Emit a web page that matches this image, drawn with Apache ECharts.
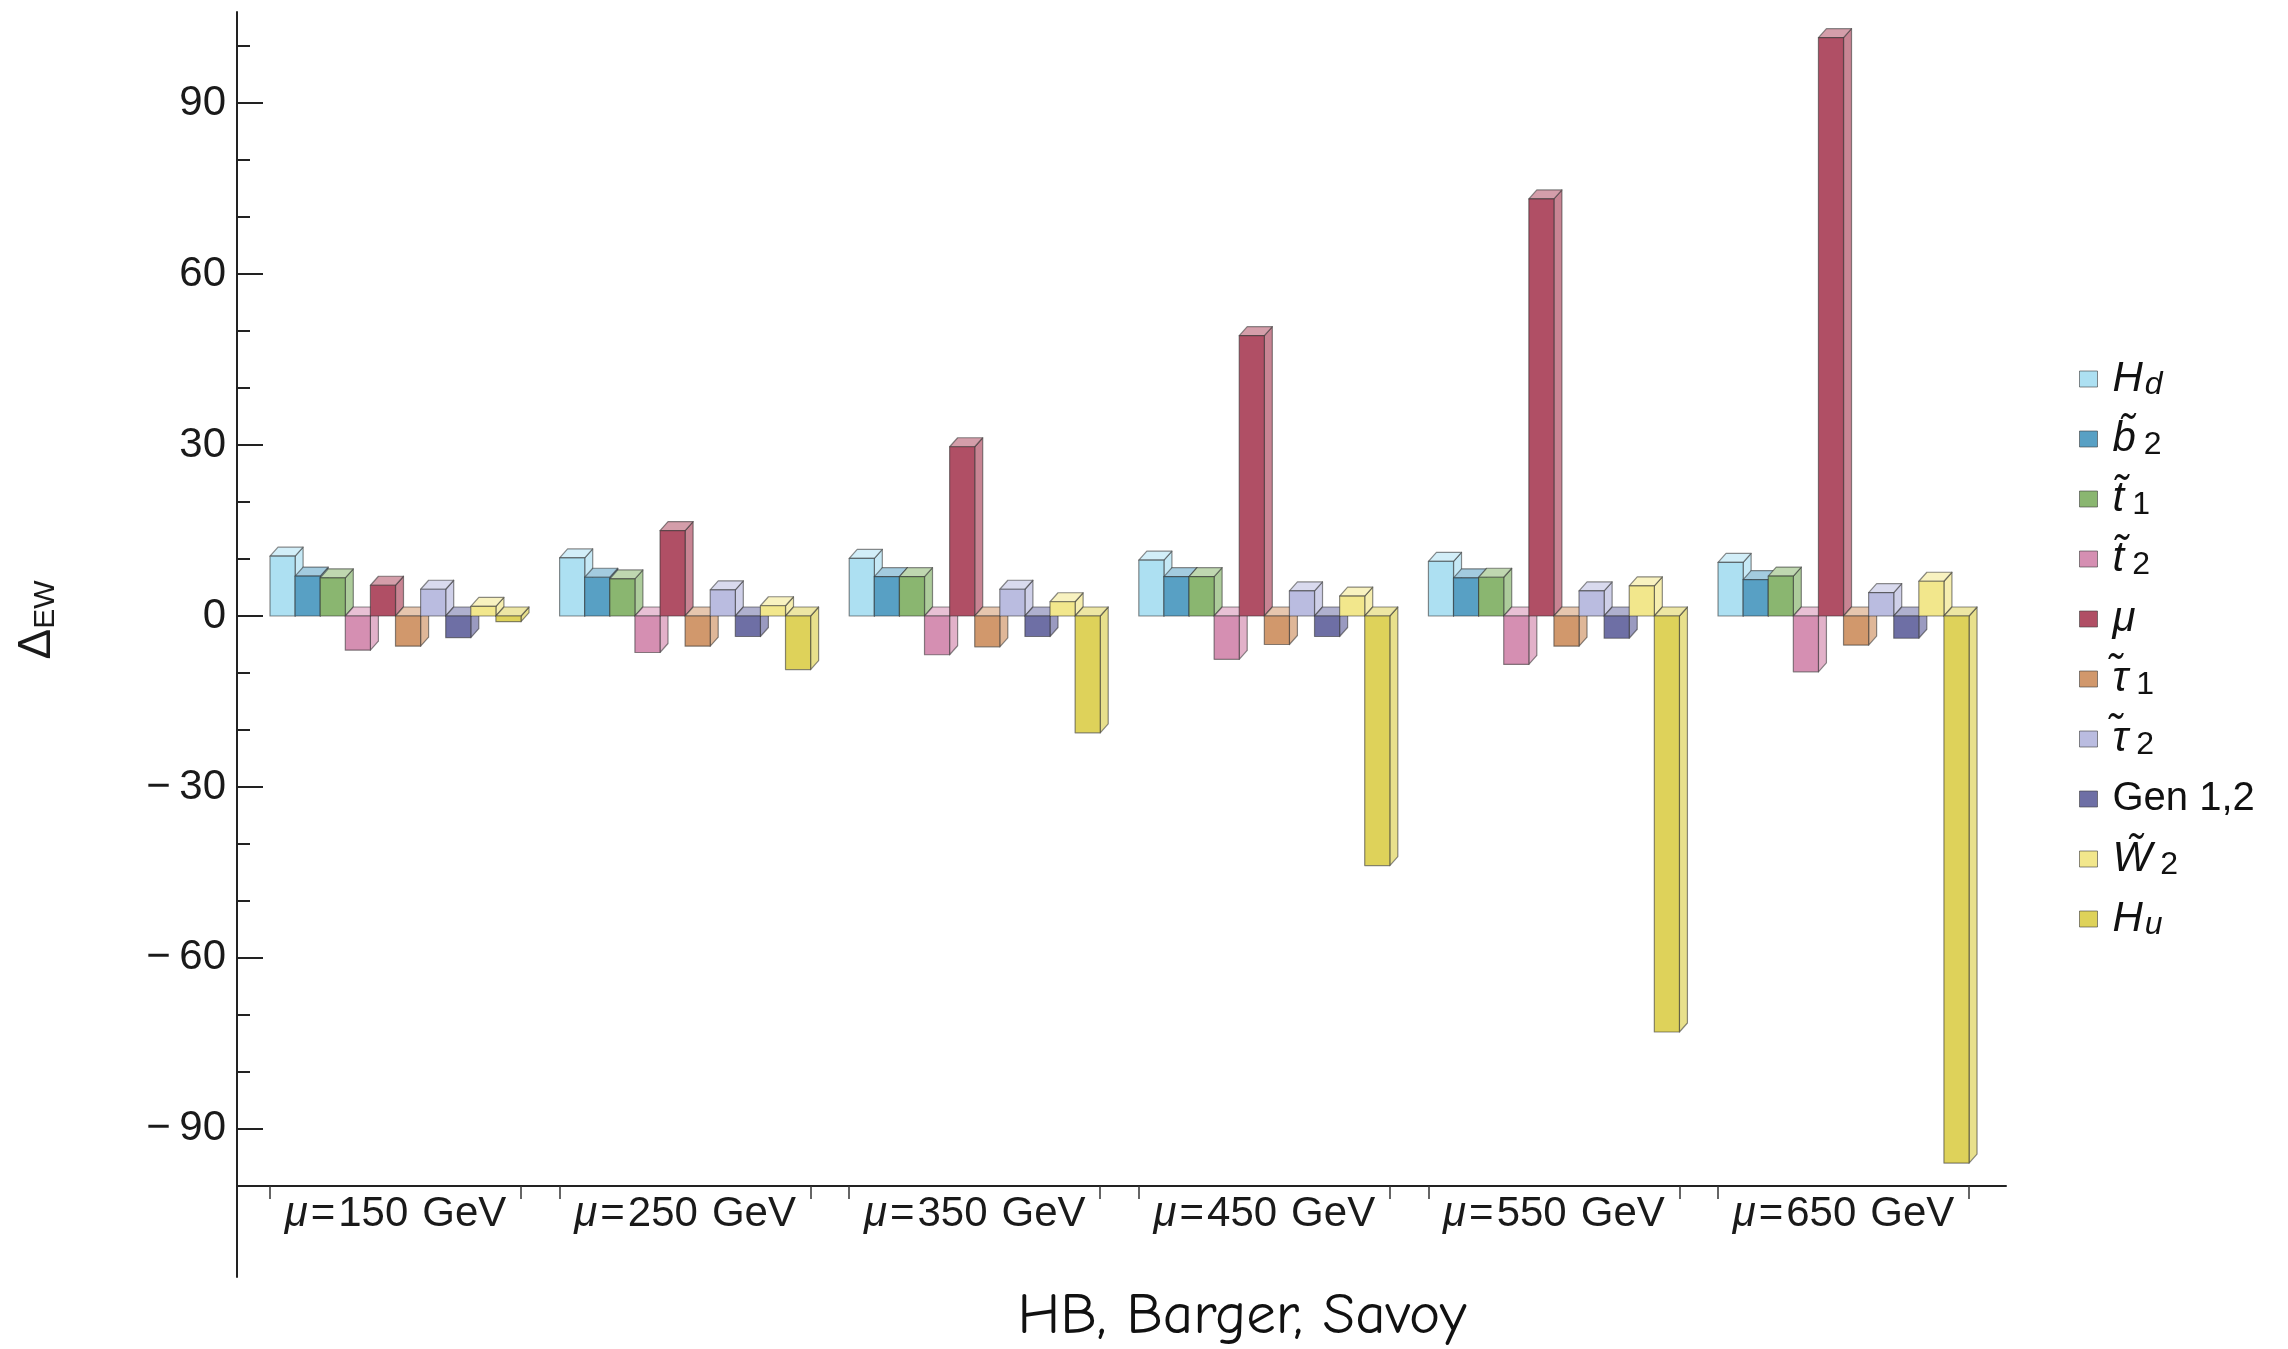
<!DOCTYPE html>
<html>
<head>
<meta charset="utf-8">
<script src="https://cdn.jsdelivr.net/npm/echarts@6/dist/echarts.min.js"></script>
<style>
  html, body { margin: 0; padding: 0; background: #ffffff; }
  #chart { width: 2288px; height: 1349px; }
</style>
</head>
<body>
<div id="chart"></div>
<script>
// Benchmark points (one group of bars per μ value, in GeV)
const groupLabels = ['150', '250', '350', '450', '550', '650'];

// Contributions to Δ_EW for each benchmark point
const Hd    = [10.5, 10.2, 10.1, 9.8, 9.6, 9.4];
const b2    = [7.0, 6.8, 6.9, 6.9, 6.7, 6.4];
const t1    = [6.7, 6.5, 6.9, 6.9, 6.8, 7.0];
const t2    = [-6.0, -6.4, -6.8, -7.6, -8.5, -9.8];
const mu    = [5.4, 15.0, 29.7, 49.2, 73.2, 101.5];
const tau1  = [-5.3, -5.3, -5.4, -5.0, -5.3, -5.1];
const tau2  = [4.7, 4.6, 4.7, 4.4, 4.4, 4.1];
const gen12 = [-3.8, -3.6, -3.6, -3.6, -3.9, -3.9];
const W2    = [1.7, 1.8, 2.5, 3.5, 5.3, 6.1];
const Hu    = [-1.0, -9.4, -20.5, -43.8, -73.0, -96.0];

// Vertical axis ticks
const yMajorTicks = [-90, -60, -30, 0, 30, 60, 90];
const yMinorTicks = [-80, -70, -50, -40, -20, -10, 10, 20, 40, 50, 70, 80, 100];

const seriesNames = ['Hd', 'b2', 't1', 't2', 'mu', 'tau1', 'tau2', 'Gen 1,2', 'W2', 'Hu'];
const seriesValues = [Hd, b2, t1, t2, mu, tau1, tau2, gen12, W2, Hu];
const seriesColors = ['#ADE0F2', '#58A0C4', '#8AB670', '#D58FB2', '#B04F65',
                      '#D1986C', '#BABCE0', '#6E6FA5', '#F2E78C', '#DED25A'];

// Legend entries as rich text (italic symbols, tildes, subscripts)
const legendRich = {
  'Hd':      '{i|H}{si|d}',
  'b2':      '{i|b\u0303}{s|2}',
  't1':      '{i|t\u0303}{s|1}',
  't2':      '{i|t\u0303}{s|2}',
  'mu':      '{i|\u03bc}',
  'tau1':    '{i|\u03c4\u0303}{s|1}',
  'tau2':    '{i|\u03c4\u0303}{s|2}',
  'Gen 1,2': '{r|Gen 1,2}',
  'W2':      '{i|W\u0303}{s|2}',
  'Hu':      '{i|H}{si|u}'
};

const FONT = '"Liberation Sans", Arial, Helvetica, sans-serif';
const GROUP_FRAC = 0.8667;      // share of a category slot covered by its bars
const DEPTH_X = 8, DEPTH_Y = 9; // pseudo-3D extrusion of each bar

function tint(hex, t) {
  const n = parseInt(hex.slice(1), 16);
  const r = (n >> 16) & 255, g = (n >> 8) & 255, b = n & 255;
  const m = (c) => Math.round(c + (255 - c) * t);
  return 'rgb(' + m(r) + ',' + m(g) + ',' + m(b) + ')';
}

// Draws one box (front, top and right faces) per data item
function boxRenderer(s) {
  const n = seriesNames.length;
  const front = seriesColors[s];
  const top = tint(front, 0.45);
  const side = tint(front, 0.3);
  const edge = { stroke: 'rgba(45,45,45,0.55)', lineWidth: 1.2, lineJoin: 'round' };
  return function (params, api) {
    const i = api.value(0);
    const v = api.value(1);
    const base = api.coord([i, 0]);
    const end = api.coord([i, v]);
    const slot = api.size([1, 0])[0];
    const gw = slot * GROUP_FRAC;
    const w = gw / n;
    const L = base[0] - gw / 2 + s * w;
    const R = L + w;
    const yt = Math.min(base[1], end[1]);
    const yb = Math.max(base[1], end[1]);
    return {
      type: 'group',
      children: [
        { type: 'polygon',
          shape: { points: [[R, yt], [R + DEPTH_X, yt - DEPTH_Y], [R + DEPTH_X, yb - DEPTH_Y], [R, yb]] },
          style: Object.assign({ fill: side }, edge) },
        { type: 'polygon',
          shape: { points: [[L, yt], [L + DEPTH_X, yt - DEPTH_Y], [R + DEPTH_X, yt - DEPTH_Y], [R, yt]] },
          style: Object.assign({ fill: top }, edge) },
        { type: 'rect',
          shape: { x: L, y: yt, width: w, height: yb - yt },
          style: Object.assign({ fill: front }, edge) }
      ]
    };
  };
}

const series = seriesNames.map((name, s) => ({
  type: 'custom',
  name: name,
  xAxisIndex: 0,
  yAxisIndex: 0,
  itemStyle: { color: seriesColors[s] },
  encode: { x: 0, y: 1 },
  data: seriesValues[s].map((v, i) => [i, v]),
  renderItem: boxRenderer(s)
}));

const groupCenters = groupLabels.map((_, i) => i);
const groupEdges = [];
groupCenters.forEach((c) => { groupEdges.push(c - GROUP_FRAC / 2, c + GROUP_FRAC / 2); });

const chart = echarts.init(document.getElementById('chart'), null, { renderer: 'canvas' });

chart.setOption({
  animation: false,
  backgroundColor: '#ffffff',
  grid: { left: 237, right: 282, top: 12, bottom: 72, containLabel: false },
  xAxis: {
    type: 'value',
    position: 'bottom',
    offset: -91,
    min: -0.5473,
    max: 5.561,
    axisLine: { show: true, onZero: false, lineStyle: { color: '#222', width: 2 } },
    axisTick: { show: true, inside: false, length: 13, customValues: groupEdges,
                lineStyle: { color: '#333', width: 1.5 } },
    axisLabel: {
      show: true,
      customValues: groupCenters,
      margin: 7,
      color: '#1a1a1a',
      fontFamily: FONT,
      fontSize: 42,
      lineHeight: 42,
      formatter: (v) => '{m|\u03bc}{q|=}' + groupLabels[Math.round(v)] + '{g|GeV}',
      rich: {
        m: { fontStyle: 'italic', fontFamily: FONT, fontSize: 42, color: '#1a1a1a' },
        q: { fontFamily: FONT, fontSize: 42, color: '#1a1a1a', padding: [0, 3, 0, 3] },
        g: { fontFamily: FONT, fontSize: 42, color: '#1a1a1a', padding: [0, 0, 0, 14] }
      }
    },
    splitLine: { show: false }
  },
  yAxis: [
    {
      type: 'value',
      position: 'left',
      min: -116,
      max: 106,
      axisLine: { show: true, onZero: false, lineStyle: { color: '#222', width: 2 } },
      axisTick: { show: true, inside: true, length: 26, customValues: yMajorTicks,
                  lineStyle: { color: '#222', width: 2 } },
      axisLabel: {
        show: true,
        customValues: yMajorTicks,
        margin: 11,
        color: '#1a1a1a',
        fontFamily: FONT,
        fontSize: 42,
        formatter: (v) => (v < 0 ? '\u2212\u2009' + (-v) : String(v))
      },
      splitLine: { show: false }
    },
    {
      type: 'value',
      position: 'left',
      offset: 0,
      min: -116,
      max: 106,
      axisLine: { show: false, onZero: false },
      axisTick: { show: true, inside: true, length: 13, customValues: yMinorTicks,
                  lineStyle: { color: '#222', width: 2 } },
      axisLabel: { show: false },
      splitLine: { show: false }
    }
  ],
  legend: {
    orient: 'vertical',
    left: 2074,
    top: 352,
    itemWidth: 18,
    itemHeight: 16,
    itemGap: 16,
    icon: 'rect',
    itemStyle: { borderColor: 'rgba(60,60,60,0.6)', borderWidth: 1 },
    data: seriesNames,
    formatter: (name) => legendRich[name],
    textStyle: {
      color: '#111',
      fontFamily: FONT,
      fontSize: 42,
      lineHeight: 44,
      padding: [0, 0, 0, 10],
      rich: {
        i:  { fontStyle: 'italic', fontFamily: FONT, fontSize: 42, lineHeight: 44, color: '#111' },
        r:  { fontFamily: FONT, fontSize: 40, lineHeight: 44, color: '#111' },
        s:  { fontFamily: FONT, fontSize: 32, lineHeight: 18, verticalAlign: 'bottom', padding: [0, 0, 0, 8], color: '#111' },
        si: { fontStyle: 'italic', fontFamily: FONT, fontSize: 32, lineHeight: 18, verticalAlign: 'bottom', padding: [0, 0, 0, 2], color: '#111' }
      }
    }
  },
  graphic: [
    {
      type: 'text',
      x: 37,
      y: 620,
      rotation: Math.PI / 2,
      style: {
        text: '{d|\u0394}{e|EW}',
        align: 'center',
        verticalAlign: 'middle',
        rich: {
          d: { fontFamily: FONT, fontSize: 46, lineHeight: 48, fill: '#1a1a1a' },
          e: { fontFamily: FONT, fontSize: 30, lineHeight: 18, verticalAlign: 'bottom', fill: '#1a1a1a' }
        }
      }
    },
    {
      type: 'text',
      x: 1242,
      y: 1316,
      style: {
        text: 'HB, Barger, Savoy',
        align: 'center',
        verticalAlign: 'middle',
        fontFamily: '"Comic Sans MS", "Comic Neue", "DejaVu Sans", sans-serif',
        fontSize: 59,
        fill: '#111'
      }
    }
  ],
  series: series
});
</script>
</body>
</html>
